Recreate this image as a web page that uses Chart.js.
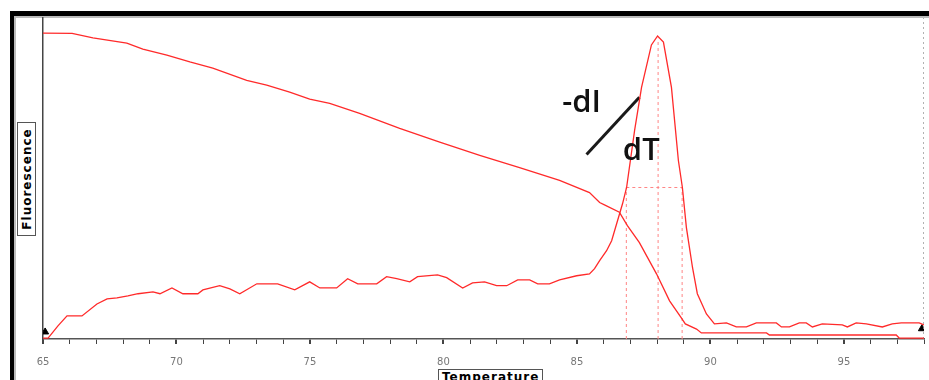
<!DOCTYPE html>
<html>
<head>
<meta charset="utf-8">
<script src="https://cdn.jsdelivr.net/npm/chart.js@4.4.1/dist/chart.umd.min.js"></script>
<style>
  body { margin: 0; background: #fff; }
  #wrap { position: relative; width: 929px; height: 380px; overflow: hidden; }
  #frame {
    position: absolute; left: 10px; top: 11px; width: 960px; height: 400px;
    border-left: 4px solid #000; border-top: 5px solid #000;
    box-shadow: inset 2px 2px 0 #bbb;
  }
  .axisTitle {
    position: absolute; font-family: "DejaVu Sans", sans-serif; font-weight: bold;
    font-size: 12px; color: #000; border: 1px solid #555; background: #fff;
    letter-spacing: 1px; line-height: 15px; padding: 0 3px; white-space: nowrap;
  }
  #ytitle { left: 17px; top: 122px; width: 17px; height: 112px; padding: 0; }
  #ytitle span { position: absolute; left: 50%; top: 50%; transform: translate(-50%, -50%) rotate(-90deg); }
  #xtitle { left: 438px; top: 369px; height: 18px; }
  canvas { position: absolute; left: 0; top: 0; }
</style>
</head>
<body>
<div id="wrap">
  <div id="frame"></div>
  <canvas id="meltChart" width="929" height="380"></canvas>
  <div id="ytitle" class="axisTitle"><span>Fluorescence</span></div>
  <div id="xtitle" class="axisTitle">Temperature</div>
</div>
<script>
// Melt curve: fluorescence vs temperature
const meltTemp = [65.0, 66.09, 66.87, 68.14, 68.74, 69.64, 70.5, 71.36, 72.63, 73.38, 74.24, 74.99, 75.74, 76.86, 78.36, 79.86, 81.36, 82.85, 84.35, 85.47, 85.85, 86.03, 86.59, 86.89, 87.34, 87.98, 88.47, 88.91, 89.06, 89.48, 89.66, 92.1, 92.21, 96.96, 97.07, 98.0];
const meltFluor = [95.3, 95.2, 93.8, 92.2, 90.3, 88.4, 86.3, 84.4, 80.6, 79.1, 76.9, 74.7, 73.4, 70.3, 65.6, 61.3, 57.2, 53.4, 49.4, 45.6, 42.5, 41.8, 39.5, 35.3, 30.0, 20.3, 11.9, 6.6, 4.7, 3.1, 1.9, 1.9, 1.25, 1.25, 0.3, 0.3];

// Derivative curve (-dI/dT)
const derivTemp = [65.0, 65.19, 65.56, 65.9, 66.46, 67.02, 67.4, 67.77, 68.18, 68.56, 69.12, 69.38, 69.83, 70.24, 70.8, 70.99, 71.62, 72.0, 72.37, 73.01, 73.79, 74.43, 74.99, 75.37, 76.0, 76.41, 76.79, 77.5, 77.87, 78.25, 78.74, 79.03, 79.78, 80.12, 80.72, 81.09, 81.54, 81.99, 82.37, 82.78, 83.23, 83.53, 83.97, 84.35, 84.99, 85.47, 85.66, 85.85, 86.11, 86.3, 86.71, 86.86, 87.16, 87.42, 87.79, 88.02, 88.24, 88.54, 88.8, 88.95, 89.1, 89.33, 89.51, 89.85, 90.15, 90.6, 90.97, 91.35, 91.72, 92.47, 92.66, 92.96, 93.33, 93.59, 93.82, 94.19, 94.94, 95.13, 95.46, 95.84, 96.44, 96.81, 97.15, 97.82, 98.0];
const derivValue = [0.3, 0.3, 4.1, 7.2, 7.2, 10.9, 12.5, 12.8, 13.4, 14.1, 14.7, 14.1, 15.9, 14.1, 14.1, 15.3, 16.6, 15.6, 14.1, 17.2, 17.2, 15.3, 17.8, 15.9, 15.9, 18.8, 17.2, 17.2, 19.4, 18.8, 17.8, 19.4, 20.0, 19.1, 15.9, 17.5, 17.8, 16.6, 16.6, 18.4, 18.4, 17.2, 17.2, 18.4, 19.7, 20.3, 21.9, 24.4, 27.5, 30.6, 42.2, 47.2, 65.0, 78.4, 91.6, 94.4, 92.5, 78.4, 55.6, 47.2, 34.7, 22.2, 14.1, 7.8, 4.7, 5.0, 3.75, 3.75, 5.0, 5.0, 3.75, 3.75, 5.0, 5.0, 3.75, 4.7, 4.4, 3.75, 5.0, 4.7, 3.75, 4.7, 5.0, 5.0, 4.4];

// Tm and half-height markers
const tmLeft = 86.85, tmPeak = 88.04, tmRight = 88.94;
const halfHeight = 47.2, peakHeight = 93.5;

// Axis ticks
const xMin = 65, xMax = 98;
const xLabelEvery = 5;

// -dI / dT annotation
const slashTemp = [85.36, 87.34];
const slashValue = [57.5, 75.3];
const annotText = ['-dI', 'dT'];
const annotTemp = [84.45, 86.72];
const annotValue = [70.6, 55.8];

const toPoints = (xs, ys) => xs.map((x, i) => ({ x: x, y: ys[i] }));

const red = '#ff2a2a';
const pink = '#ff8585';

const textPlugin = {
    id: 'annotText',
    afterDatasetsDraw(chart) {
        const ctx = chart.ctx;
        const xs = chart.scales.x, ys = chart.scales.y;
        ctx.save();
        ctx.fillStyle = '#111';
        ctx.font = '600 31px "Open Sans", sans-serif';
        ctx.textBaseline = 'alphabetic';
        annotText.forEach((t, i) => {
            ctx.fillText(t, xs.getPixelForValue(annotTemp[i]), ys.getPixelForValue(annotValue[i]));
        });
        ctx.restore();
    }
};

const ctx = document.getElementById('meltChart').getContext('2d');
new Chart(ctx, {
    type: 'line',
    data: {
        datasets: [
            { data: toPoints(meltTemp, meltFluor), borderColor: red, borderWidth: 1.3 },
            { data: toPoints(derivTemp, derivValue), borderColor: red, borderWidth: 1.3 },
            { data: toPoints([tmLeft, tmLeft], [0, halfHeight]), borderColor: pink, borderWidth: 1, borderDash: [3, 3] },
            { data: toPoints([tmPeak, tmPeak], [0, peakHeight]), borderColor: pink, borderWidth: 1, borderDash: [3, 3] },
            { data: toPoints([tmRight, tmRight], [0, halfHeight]), borderColor: pink, borderWidth: 1, borderDash: [3, 3] },
            { data: toPoints([tmLeft, tmRight], [halfHeight, halfHeight]), borderColor: pink, borderWidth: 1, borderDash: [3, 3] },
            { data: toPoints([xMax, xMax], [0, 100]), borderColor: '#999', borderWidth: 1.5, borderDash: [2, 3] },
            { data: toPoints(slashTemp, slashValue), borderColor: '#1a1a1a', borderWidth: 3 },
            {
                data: toPoints([65.08, 97.92], [2.2, 3.2]), showLine: false,
                pointRadius: 4, pointStyle: 'triangle', backgroundColor: '#000', borderColor: '#000'
            }
        ]
    },
    options: {
        responsive: false,
        animation: false,
        elements: { point: { radius: 0 }, line: { tension: 0 } },
        layout: { padding: { left: 43, top: 18, right: 2, bottom: 0 } },
        plugins: { legend: { display: false }, tooltip: { enabled: false } },
        scales: {
            x: {
                type: 'linear', min: xMin, max: xMax,
                afterFit: (scale) => { scale.paddingLeft = 0; scale.paddingRight = 0; },
                grid: {
                    drawOnChartArea: false, drawTicks: true, tickLength: 5,
                    color: '#444',
                    lineWidth: (c) => (c.tick && c.tick.value % xLabelEvery === 0 ? 2 : 1)
                },
                border: { color: '#555', width: 1.5 },
                ticks: {
                    stepSize: 1, padding: 12, color: '#777', maxRotation: 0, autoSkip: false,
                    font: { family: 'DejaVu Sans', size: 10 },
                    callback: (v) => (v % xLabelEvery === 0 ? v : '')
                }
            },
            y: {
                min: 0, max: 100,
                grid: { display: false, drawTicks: false },
                border: { color: '#444', width: 1.5 },
                ticks: { display: false }
            }
        }
    },
    plugins: [textPlugin]
});
</script>
</body>
</html>
